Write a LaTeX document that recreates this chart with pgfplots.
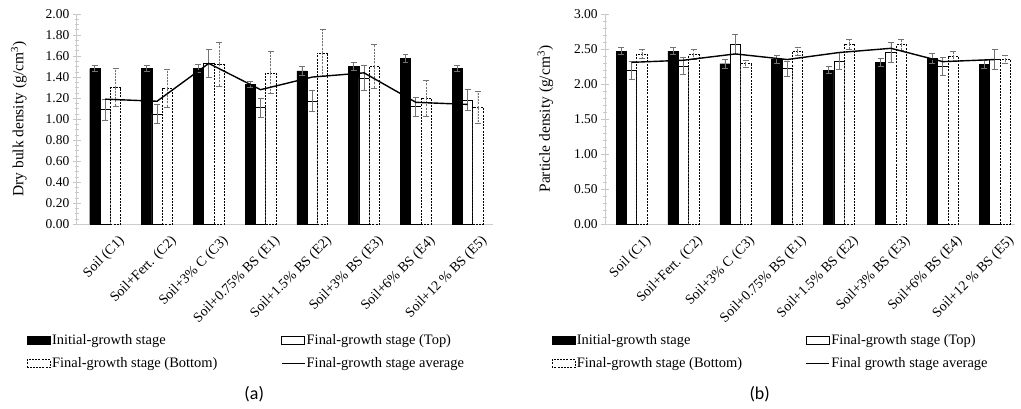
\documentclass[border=0pt]{standalone}
\usepackage{pgfplots}
\pgfplotsset{compat=1.18}
\usepackage{pgfplotstable}
\usepackage{fontspec}
\setmainfont{Liberation Serif}
\newfontfamily\capfont{Carlito}

\pgfplotstableread{
x init einit top etop bot ebot avg
0 1.48 0.03 1.09 0.10 1.30 0.18 1.19
1 1.48 0.03 1.05 0.09 1.29 0.18 1.17
2 1.48 0.04 1.53 0.13 1.52 0.21 1.53
3 1.33 0.03 1.11 0.09 1.44 0.20 1.28
4 1.46 0.04 1.17 0.10 1.63 0.22 1.40
5 1.50 0.04 1.39 0.12 1.50 0.21 1.44
6 1.58 0.04 1.12 0.09 1.20 0.17 1.16
7 1.48 0.03 1.18 0.10 1.11 0.15 1.14
}\dataA

\pgfplotstableread{
x init einit top etop bot ebot avg
0 2.47 0.05 2.19 0.13 2.43 0.06 2.31
1 2.47 0.05 2.26 0.12 2.42 0.07 2.34
2 2.29 0.06 2.57 0.14 2.29 0.05 2.43
3 2.35 0.06 2.22 0.11 2.47 0.06 2.35
4 2.20 0.05 2.33 0.12 2.57 0.07 2.45
5 2.31 0.06 2.45 0.14 2.56 0.08 2.51
6 2.37 0.07 2.25 0.13 2.39 0.07 2.32
7 2.28 0.06 2.35 0.14 2.35 0.06 2.35
}\dataB

\pgfplotsset{
  mystyle/.style={
    scale only axis, anchor=south west,
    height=211pt,
    ymin=0,
    axis x line*=bottom, axis y line*=left,
    axis line style={gray!40, line width=0.9pt},
    xtick={0,...,7},
    xticklabels={Soil (C1), Soil+Fert. (C2), Soil+3\% C (C3), Soil+0.75\% BS (E1), Soil+1.5\% BS (E2), Soil+3\% BS (E3), Soil+6\% BS (E4), Soil+12 \% BS (E5)},
    x tick label style={rotate=45, anchor=north east, xshift=8pt, yshift=-10pt, font=\fontsize{14}{14}\selectfont},
    xtick style={draw=none},
    y tick label style={font=\fontsize{13.5}{14}\selectfont, /pgf/number format/.cd, fixed, fixed zerofill, precision=2},
    /pgf/number format/assume math mode=true,
    ytick style={gray!45, line width=0.8pt},
    minor y tick style={gray!45, line width=0.6pt},
    tick align=center,
    major tick length=8pt, minor tick length=4pt,
    ylabel style={font=\fontsize{15.5}{16}\selectfont, anchor=center},
    bar width=0.2,
    legend columns=2,
    legend cell align=left,
    legend style={draw=none, fill=none, inner sep=0pt, anchor=north west,
      font=\fontsize{14.5}{15}\selectfont, row sep=10pt,
      nodes={inner xsep=1.5pt, inner ysep=1pt}},
    clip=false,
  },
  eb/.style={error bars/.cd, y dir=both, y explicit,
    error bar style={black!55, line width=0.8pt},
    error mark options={black!55, mark size=3pt, line width=0.8pt, rotate=90}},
  barleg/.style={legend image code/.code={\draw[##1] (0pt,-4pt) rectangle (23pt,4pt);}},
  lineleg/.style={legend image code/.code={\draw[##1] (0pt,0pt) -- (23pt,0pt);}},
  binit/.style={ybar, bar shift=0pt, fill=black, draw=black, barleg, eb},
  btop/.style={ybar, bar shift=0pt, fill=white, draw=black, line width=0.6pt, barleg, eb},
  bbot/.style={ybar, bar shift=0pt, fill=white, draw=black, line width=0.7pt, dash pattern=on 2pt off 1.2pt, barleg, eb},
  lavg/.style={black, line width=1.4pt, mark=none, lineleg},
}

\begin{document}
\begin{tikzpicture}
\path (0,0) rectangle (1021pt,410pt);

\begin{axis}[mystyle, at={(77pt,185pt)}, width=418pt,
  xmin=-0.55, xmax=7.5,
  ymax=2, ytick={0,0.2,0.4,0.6,0.8,1.0,1.2,1.4,1.6,1.8,2.0}, minor y tick num=3,
  ylabel={Dry bulk density (g/cm\textsuperscript{3})},
  ylabel style={at={(axis description cs:-0.139,0.5)}},
  legend style={at={(rel axis cs:-0.12,-0.517)}}]
\addplot[binit] table[x expr=\thisrow{x}-0.2, y=init, y error=einit] {\dataA};
\addlegendentry{\makebox[228pt][l]{Initial-growth stage}}
\addplot[btop] table[x=x, y=top, y error=etop] {\dataA};
\addlegendentry{Final-growth stage (Top)}
\addplot[bbot] table[x expr=\thisrow{x}+0.2, y=bot, y error=ebot] {\dataA};
\addlegendentry{\makebox[228pt][l]{Final-growth stage (Bottom)}}
\addplot[lavg] table[x=x, y=avg] {\dataA};
\addlegendentry{Final-growth stage average}
\end{axis}

\begin{axis}[mystyle, at={(607pt,185pt)}, width=411pt,
  xmin=-0.51, xmax=7.39,
  ymax=3, ytick={0,0.5,1.0,1.5,2.0,2.5,3.0}, minor y tick num=4,
  ylabel={Particle density (g/cm\textsuperscript{3})},
  ylabel style={at={(axis description cs:-0.146,0.5)}},
  legend style={at={(rel axis cs:-0.131,-0.517)}}]
\addplot[binit] table[x expr=\thisrow{x}-0.2, y=init, y error=einit] {\dataB};
\addlegendentry{\makebox[228pt][l]{Initial-growth stage}}
\addplot[btop] table[x=x, y=top, y error=etop] {\dataB};
\addlegendentry{Final-growth stage (Top)}
\addplot[bbot] table[x expr=\thisrow{x}+0.2, y=bot, y error=ebot] {\dataB};
\addlegendentry{\makebox[228pt][l]{Final-growth stage (Bottom)}}
\addplot[lavg] table[x=x, y=avg] {\dataB};
\addlegendentry{Final growth stage average}
\end{axis}

\node[font=\capfont\fontsize{18}{18}\selectfont] at (255pt,15pt) {(a)};
\node[font=\capfont\fontsize{18}{18}\selectfont] at (762pt,15pt) {(b)};
\end{tikzpicture}
\end{document}
